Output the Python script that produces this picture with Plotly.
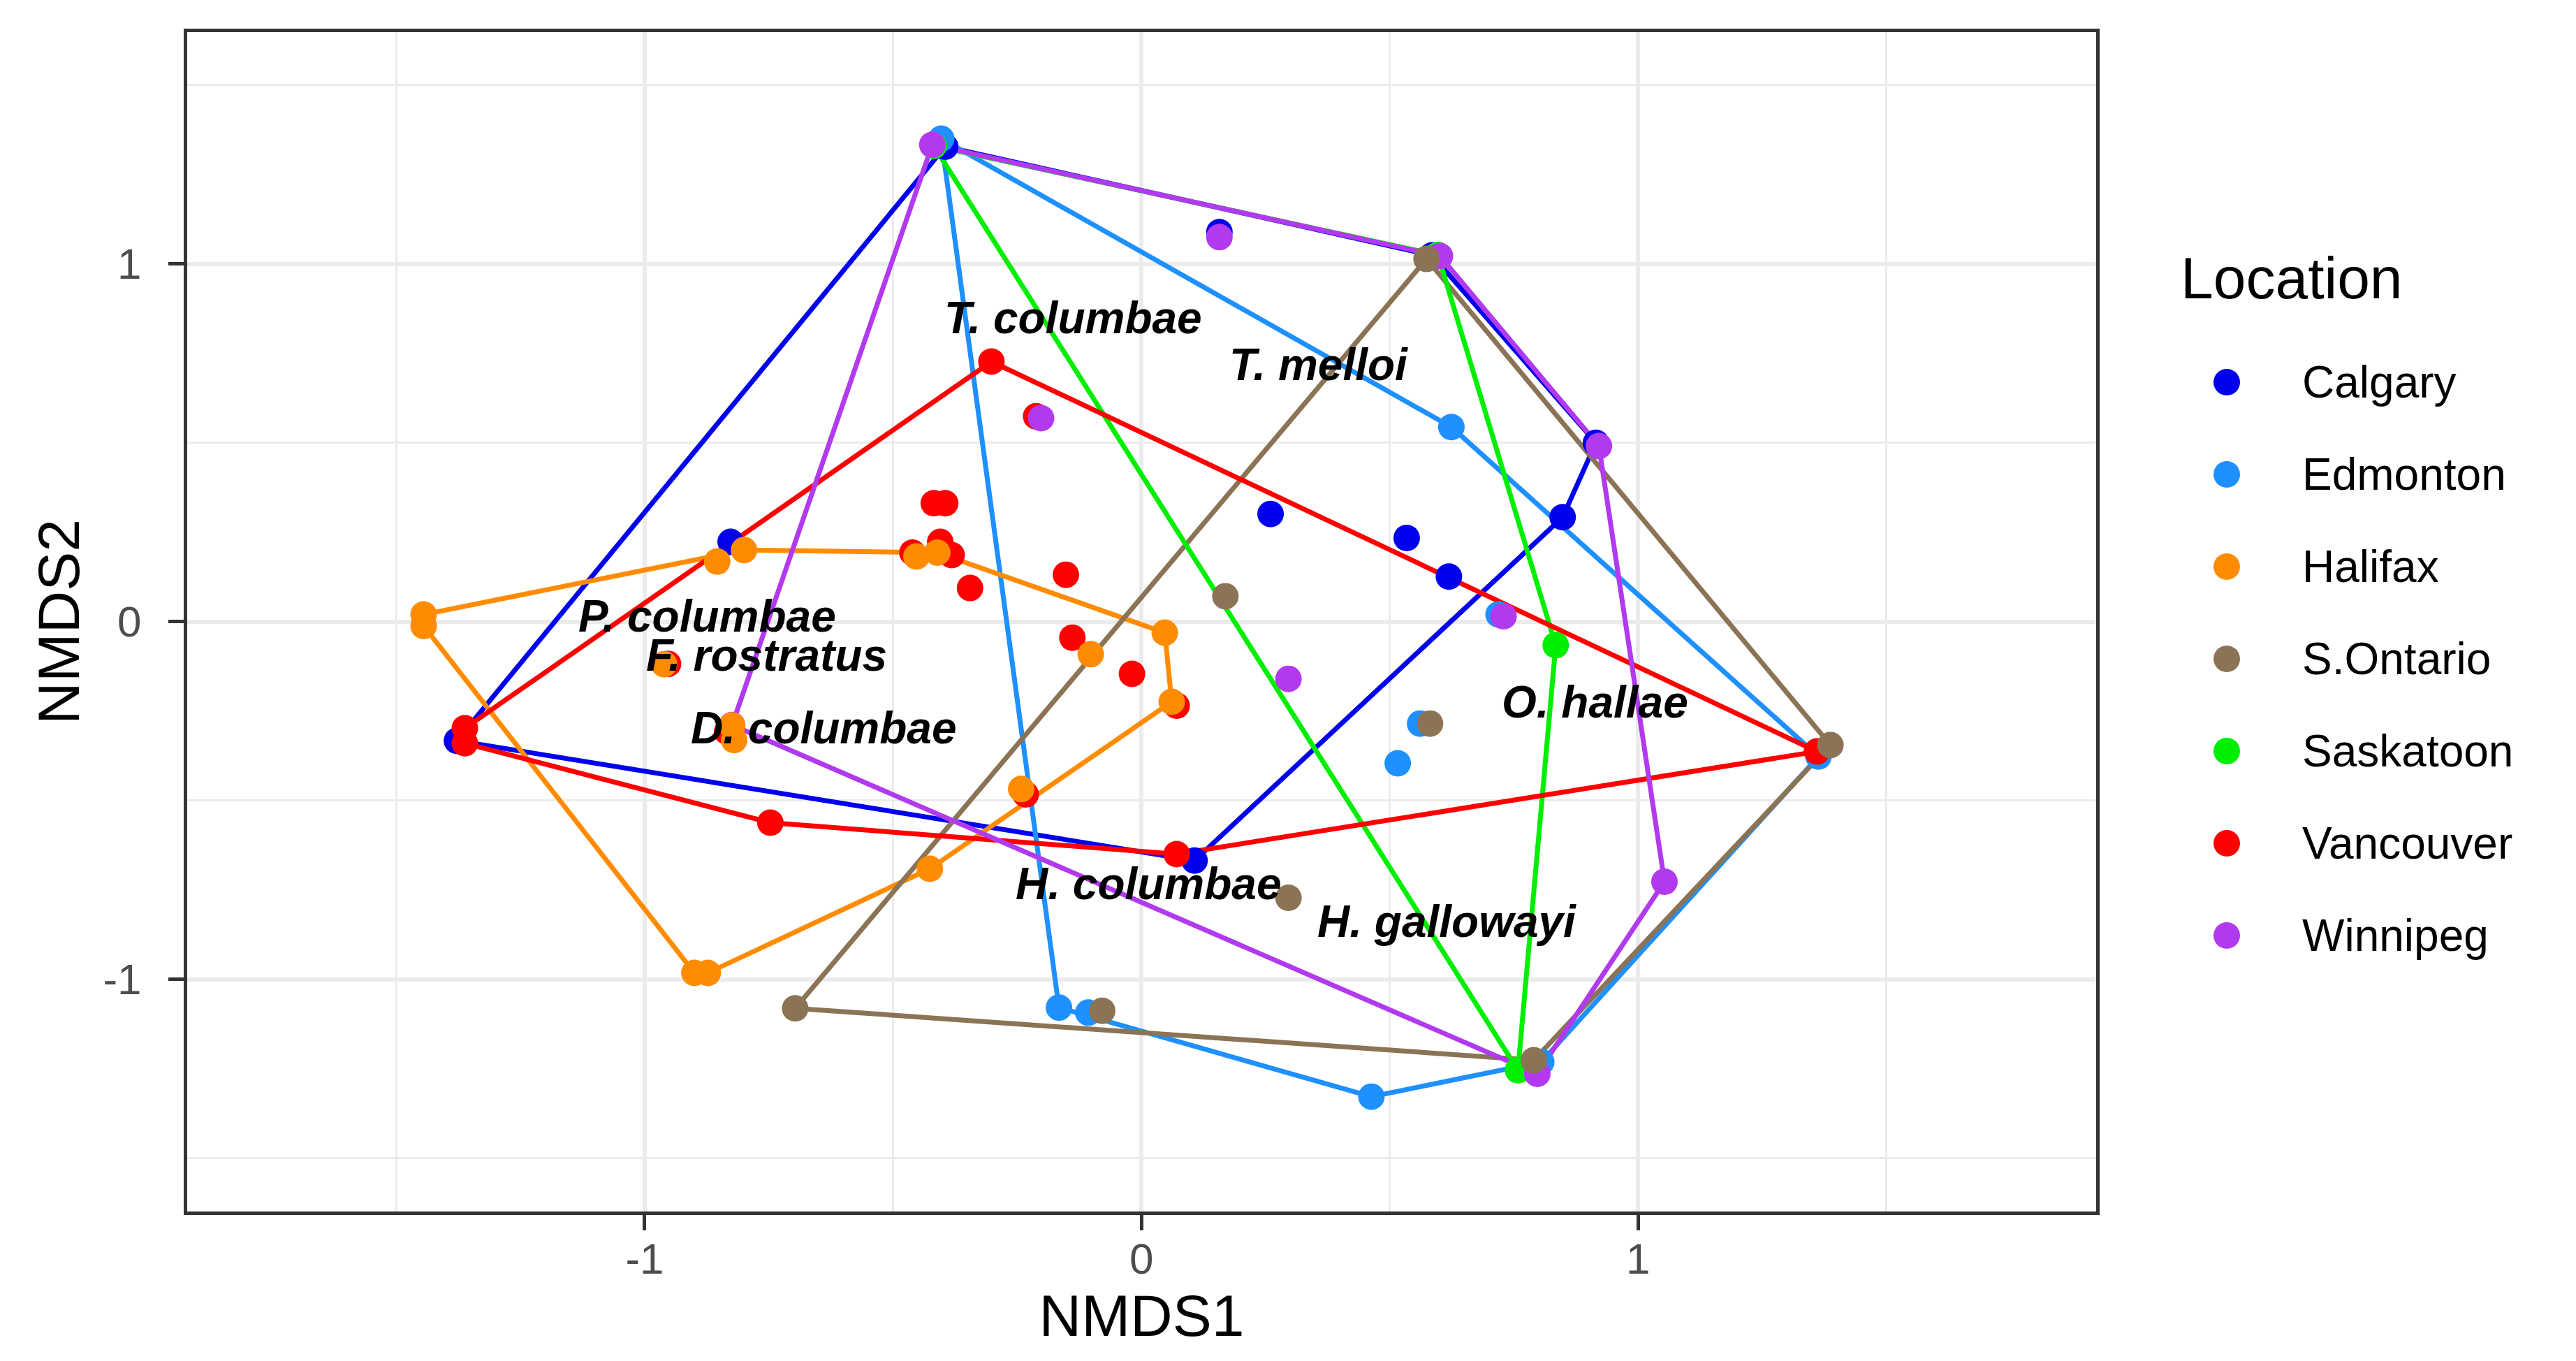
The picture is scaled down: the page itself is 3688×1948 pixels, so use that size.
import plotly.graph_objects as go

# ---------------- data ----------------
locations = ["Calgary", "Edmonton", "Halifax", "S.Ontario", "Saskatoon", "Vancouver", "Winnipeg"]
colors = ["#0000EE", "#1E90FF", "#FF8C00", "#8B7355", "#00EE00", "#FF0000", "#B23AEE"]

calgary_x = [-0.395, 0.157, 0.585, 0.915, 0.848, 0.260, 0.534, 0.619, 0.107, -0.827, -1.378]
calgary_y = [1.328, 1.089, 1.024, 0.500, 0.292, 0.301, 0.234, 0.126, -0.668, 0.223, -0.333]

edmonton_x = [-0.403, 0.624, 1.363, 0.516, 0.561, 0.719, -0.166, -0.107, 0.463, 0.805]
edmonton_y = [1.350, 0.544, -0.377, -0.396, -0.285, 0.020, -1.079, -1.093, -1.328, -1.231]

halifax_x = [-1.445, -1.445, -0.854, -0.800, -0.961, -0.824, -0.820, -0.453, -0.411,
             0.047, -0.102, 0.061, -0.242, -0.426, -0.900, -0.873]
halifax_y = [0.020, -0.012, 0.168, 0.200, -0.119, -0.290, -0.331, 0.182, 0.193,
             -0.031, -0.091, -0.224, -0.468, -0.691, -0.982, -0.982]

sontario_x = [0.574, 0.169, 0.581, 1.387, 0.296, 0.790, -0.079, -0.697]
sontario_y = [1.014, 0.071, -0.285, -0.345, -0.772, -1.226, -1.088, -1.081]

saskatoon_x = [-0.418, 0.597, 0.834, 0.758]
saskatoon_y = [1.330, 1.025, -0.066, -1.254]

vancouver_x = [-0.302, -0.212, -0.418, -0.395, -0.461, -0.405, -0.382, -0.345, -0.152, -0.139,
               -0.019, 0.071, -0.233, 0.071, -0.747, -1.362, -1.362, -0.834, -0.953, 1.360]
vancouver_y = [0.727, 0.574, 0.331, 0.331, 0.193, 0.223, 0.186, 0.094, 0.131, -0.045,
               -0.146, -0.235, -0.483, -0.650, -0.562, -0.298, -0.340, -0.308, -0.118, -0.363]

winnipeg_x = [-0.421, 0.157, 0.601, 0.921, -0.202, 0.296, 0.729, 1.053, 0.797, -0.824]
winnipeg_y = [1.333, 1.075, 1.022, 0.491, 0.569, -0.160, 0.015, -0.727, -1.264, -0.289]

species = ["T. columbae", "T. melloi", "P. columbae", "F. rostratus",
           "D. columbae", "O. hallae", "H. columbae", "H. gallowayi"]
species_x = [-0.137, 0.357, -0.874, -0.755, -0.640, 0.913, 0.014, 0.615]
species_y = [0.849, 0.718, 0.016, -0.094, -0.297, -0.225, -0.732, -0.839]

x_ticks = [-1, 0, 1]
y_ticks = [-1, 0, 1]

# ---------------- helpers ----------------
groups = {
    "Calgary": (calgary_x, calgary_y),
    "Edmonton": (edmonton_x, edmonton_y),
    "Halifax": (halifax_x, halifax_y),
    "S.Ontario": (sontario_x, sontario_y),
    "Saskatoon": (saskatoon_x, saskatoon_y),
    "Vancouver": (vancouver_x, vancouver_y),
    "Winnipeg": (winnipeg_x, winnipeg_y),
}
color_of = dict(zip(locations, colors))


def convex_hull(xs, ys):
    pts = sorted(set(zip(xs, ys)))
    if len(pts) < 3:
        return pts

    def cross(o, a, b):
        return (a[0] - o[0]) * (b[1] - o[1]) - (a[1] - o[1]) * (b[0] - o[0])

    lower = []
    for p in pts:
        while len(lower) >= 2 and cross(lower[-2], lower[-1], p) <= 0:
            lower.pop()
        lower.append(p)
    upper = []
    for p in reversed(pts):
        while len(upper) >= 2 and cross(upper[-2], upper[-1], p) <= 0:
            upper.pop()
        upper.append(p)
    return lower[:-1] + upper[:-1]


FONT = "Liberation Sans, Arial, sans-serif"
point_order = ["Calgary", "Edmonton", "Saskatoon", "Vancouver", "Winnipeg", "Halifax", "S.Ontario"]

fig = go.Figure()

# hull outlines (drawn in legend order, Winnipeg on top)
for name in locations:
    xs, ys = groups[name]
    h = convex_hull(xs, ys)
    hx = [p[0] for p in h] + [h[0][0]]
    hy = [p[1] for p in h] + [h[0][1]]
    fig.add_trace(go.Scatter(x=hx, y=hy, mode="lines",
                             line=dict(color=color_of[name], width=7),
                             showlegend=False, hoverinfo="skip"))

# points
for name in point_order:
    xs, ys = groups[name]
    fig.add_trace(go.Scatter(x=xs, y=ys, mode="markers", name=name,
                             marker=dict(color=color_of[name], size=38, line=dict(width=0)),
                             showlegend=False))

# species labels
for s, sx, sy in zip(species, species_x, species_y):
    fig.add_annotation(x=sx, y=sy, xref="x", yref="y", text="<b><i>%s</i></b>" % s,
                       showarrow=False, xanchor="center", yanchor="middle",
                       font=dict(family=FONT, size=64, color="black"))

# ---------------- manual legend (large keys, like ggplot) ----------------
leg_x0, leg_x1 = 3100, 3668        # pixel extent of legend axis
key_x, label_x = 3180, 3286
first_y, step = 539, 132
leg_y = [first_y + i * step for i in range(len(locations))]
fig.add_trace(go.Scatter(x=[key_x] * len(locations), y=leg_y, mode="markers",
                         marker=dict(color=colors, size=38, line=dict(width=0)),
                         xaxis="x2", yaxis="y2", showlegend=False, hoverinfo="skip"))
for name, yy in zip(locations, leg_y):
    fig.add_annotation(x=label_x, y=yy, xref="x2", yref="y2", text=name, showarrow=False,
                       xanchor="left", yanchor="middle",
                       font=dict(family=FONT, size=64, color="black"))
fig.add_annotation(x=3112, y=390, xref="x2", yref="y2", text="Location", showarrow=False,
                   xanchor="left", yanchor="middle",
                   font=dict(family=FONT, size=84, color="black"))

# ---------------- layout ----------------
W, H = 3688, 1948
ml, mr, mt, mb = 260, 20, 38, 222
pw = W - ml - mr
main_right = 2993
xdom_end = (main_right - ml) / pw
leg_dom_start = (leg_x0 - ml) / pw

axis_common = dict(
    showgrid=True, gridcolor="#EBEBEB", gridwidth=6,
    zeroline=False, showline=True, mirror=True, linecolor="#333333", linewidth=5,
    ticks="outside", ticklen=22, tickwidth=5, tickcolor="#333333",
    tickfont=dict(family=FONT, size=62, color="#4D4D4D"),
)

fig.update_layout(
    width=W, height=H,
    margin=dict(l=ml, r=mr, t=mt, b=mb),
    plot_bgcolor="white", paper_bgcolor="white",
    showlegend=False,
    xaxis=dict(domain=[0, xdom_end], range=[-1.921, 1.922], tickvals=x_ticks,
               ticktext=[str(v) for v in x_ticks],
               minor=dict(dtick=0.5, tick0=-1.5, showgrid=True, gridcolor="#EBEBEB", gridwidth=3, ticks=""),
               title=dict(text="NMDS1", font=dict(family=FONT, size=84, color="black"), standoff=10),
               ticklabelstandoff=-12,
               **axis_common),
    yaxis=dict(domain=[0, 1], range=[-1.649, 1.648], tickvals=y_ticks,
               ticktext=[str(v) for v in y_ticks],
               minor=dict(dtick=0.5, tick0=-1.5, showgrid=True, gridcolor="#EBEBEB", gridwidth=3, ticks=""),
               title=dict(text="NMDS2", font=dict(family=FONT, size=84, color="black"), standoff=8),
               ticklabelstandoff=26,
               **axis_common),
    xaxis2=dict(domain=[leg_dom_start, 1], range=[leg_x0, leg_x1], visible=False,
                anchor="y2", fixedrange=True),
    yaxis2=dict(domain=[0, 1], range=[H - mb, mt], visible=False,
                anchor="x2", fixedrange=True),
)

fig.write_html("out.html")
